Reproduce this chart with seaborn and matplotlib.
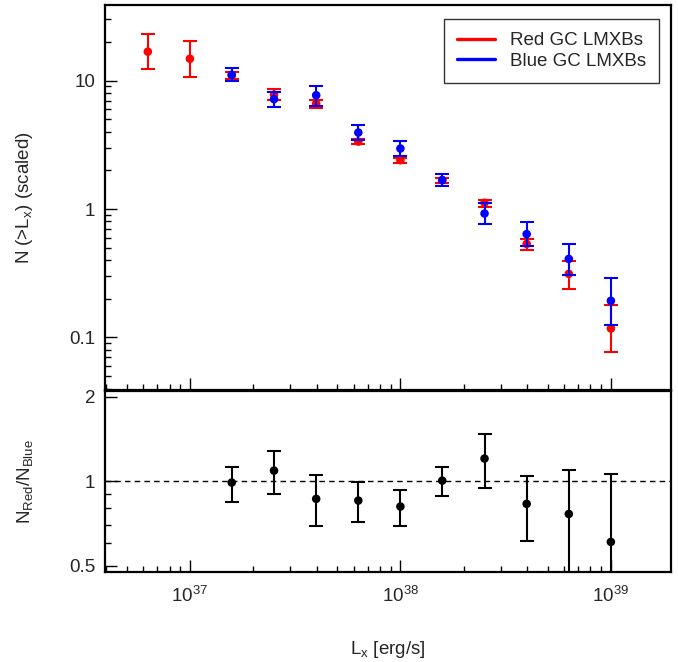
import numpy as np
import pandas as pd
import matplotlib
matplotlib.use("Agg")
import matplotlib.pyplot as plt
from matplotlib.lines import Line2D
from matplotlib.ticker import LogLocator, FixedLocator, NullFormatter
import seaborn as sns

# Luminosity bins [erg/s]
lx_red = [6.31e36, 1.0e37, 1.58e37, 2.51e37, 3.98e37, 6.31e37,
          1.0e38, 1.58e38, 2.51e38, 3.98e38, 6.31e38, 1.0e39]
lx_blue = [1.58e37, 2.51e37, 3.98e37, 6.31e37,
           1.0e38, 1.58e38, 2.51e38, 3.98e38, 6.31e38, 1.0e39]

# Cumulative counts N(>Lx), scaled, with lower / upper error limits
red_n = [16.8, 14.8, 10.98, 7.78, 6.62, 3.35, 2.40, 1.68, 1.12, 0.535, 0.313, 0.1175]
red_lo = [12.4, 10.7, 10.3, 7.08, 6.16, 3.20, 2.29, 1.60, 1.046, 0.48, 0.240, 0.0764]
red_hi = [23.0, 20.4, 11.75, 8.57, 7.08, 3.50, 2.52, 1.76, 1.186, 0.583, 0.395, 0.179]

blue_n = [11.1, 7.17, 7.69, 3.94, 2.96, 1.68, 0.923, 0.638, 0.409, 0.193]
blue_lo = [10.0, 6.21, 6.35, 3.45, 2.61, 1.50, 0.762, 0.511, 0.304, 0.1256]
blue_hi = [12.5, 8.11, 9.09, 4.55, 3.40, 1.87, 1.12, 0.795, 0.536, 0.293]

# Ratio of red to blue counts
ratio = [0.989, 1.091, 0.865, 0.853, 0.812, 1.005, 1.205, 0.830, 0.764, 0.607]
ratio_lo = [0.846, 0.899, 0.691, 0.716, 0.694, 0.884, 0.944, 0.612, 0.40, 0.30]
ratio_hi = [1.125, 1.286, 1.050, 0.995, 0.931, 1.122, 1.476, 1.045, 1.095, 1.062]

sns.set_theme(style="white")
plt.rcParams["font.family"] = ["Liberation Sans", "DejaVu Sans"]
plt.rcParams["mathtext.fontset"] = "custom"
plt.rcParams["mathtext.rm"] = "Liberation Sans"
plt.rcParams["mathtext.it"] = "Liberation Sans:italic"
plt.rcParams["mathtext.bf"] = "Liberation Sans:bold"

FS = 13.5
W, H = 678, 662
fig = plt.figure(figsize=(W / 100, H / 100), dpi=100)
ax1 = fig.add_axes([105 / W, 1 - 390 / H, 566 / W, 385 / H])
ax2 = fig.add_axes([105 / W, 1 - 572 / H, 566 / W, 181 / H])

red_df = pd.DataFrame({"lx": lx_red, "n": red_n, "lo": red_lo, "hi": red_hi})
blue_df = pd.DataFrame({"lx": lx_blue, "n": blue_n, "lo": blue_lo, "hi": blue_hi})
ratio_df = pd.DataFrame({"lx": lx_blue, "r": ratio, "lo": ratio_lo, "hi": ratio_hi})

ELW = 1.5
CAP = 4.8
MS = 38


def draw_points(ax, df, ycol, color, z):
    ax.errorbar(df["lx"], df[ycol],
                yerr=[df[ycol] - df["lo"], df["hi"] - df[ycol]],
                fmt="none", ecolor=color, elinewidth=ELW, capsize=CAP,
                capthick=ELW, zorder=z)
    sns.scatterplot(data=df, x="lx", y=ycol, ax=ax, color=color, s=MS,
                    edgecolor="none", linewidth=0, legend=False, zorder=z + 0.5)


draw_points(ax1, red_df, "n", "#ff0000", 3)
draw_points(ax1, blue_df, "n", "#0000ff", 5)
draw_points(ax2, ratio_df, "r", "black", 3)
ax2.axhline(1.0, color="black", lw=1.0, ls=(0, (4, 3)), zorder=2)

xlim = (3.95e36, 1.93e39)
for ax in (ax1, ax2):
    ax.set_xscale("log")
    ax.set_yscale("log")
    ax.set_xlim(*xlim)
    ax.set_xlabel("")
    ax.set_ylabel("")
    for s in ax.spines.values():
        s.set_linewidth(1.6)
        s.set_color("black")
    ax.tick_params(which="both", direction="in", top=False, right=False,
                   left=True, bottom=True, color="black", width=1.0,
                   labelsize=FS, pad=7)
    ax.tick_params(which="major", length=8.6)
    ax.tick_params(which="minor", length=4.3)
    ax.xaxis.set_major_locator(FixedLocator([1e37, 1e38, 1e39]))
    ax.xaxis.set_minor_locator(LogLocator(base=10, subs=np.arange(2, 10), numticks=20))
    ax.xaxis.set_minor_formatter(NullFormatter())

ax1.set_ylim(0.039, 38.8)
ax1.set_yticks([0.1, 1, 10], labels=["0.1", "1", "10"])
ax1.yaxis.set_minor_locator(LogLocator(base=10, subs=np.arange(2, 10), numticks=20))
ax1.yaxis.set_minor_formatter(NullFormatter())
ax1.set_xticklabels([])

ax2.set_ylim(0.474, 2.10)
ax2.set_yticks([0.5, 1, 2], labels=["0.5", "1", "2"])
ax2.yaxis.set_minor_locator(FixedLocator([0.6, 0.7, 0.8, 0.9]))
ax2.yaxis.set_minor_formatter(NullFormatter())
ax2.set_xticks([1e37, 1e38, 1e39],
               labels=[r"$10^{37}$", r"$10^{38}$", r"$10^{39}$"])
ax2.tick_params(axis="x", which="major", pad=10)

ax1.set_ylabel(r"N (>L$_{\rm x}$) (scaled)", fontsize=FS)
ax1.yaxis.set_label_coords(-0.123, 0.5)
ax2.set_ylabel(r"N$_{\rm Red}$/N$_{\rm Blue}$", fontsize=FS)
ax2.yaxis.set_label_coords(-0.123, 0.5)
ax2.set_xlabel(r"L$_{\rm x}$ [erg/s]", fontsize=FS)
ax2.xaxis.set_label_coords(0.5, -0.37)

handles = [Line2D([], [], color="#ff0000", lw=2.4),
           Line2D([], [], color="#0000ff", lw=2.4)]
leg = ax1.legend(handles, ["Red GC LMXBs", "Blue GC LMXBs"], loc="upper right",
                 bbox_to_anchor=(0.979, 0.964), borderaxespad=0, fontsize=FS,
                 frameon=True, fancybox=False, handlelength=2.0,
                 handletextpad=0.8, labelspacing=0.2, borderpad=0.7)
leg.get_frame().set_edgecolor("black")
leg.get_frame().set_linewidth(1.0)

fig.savefig("out.png", dpi=100)
